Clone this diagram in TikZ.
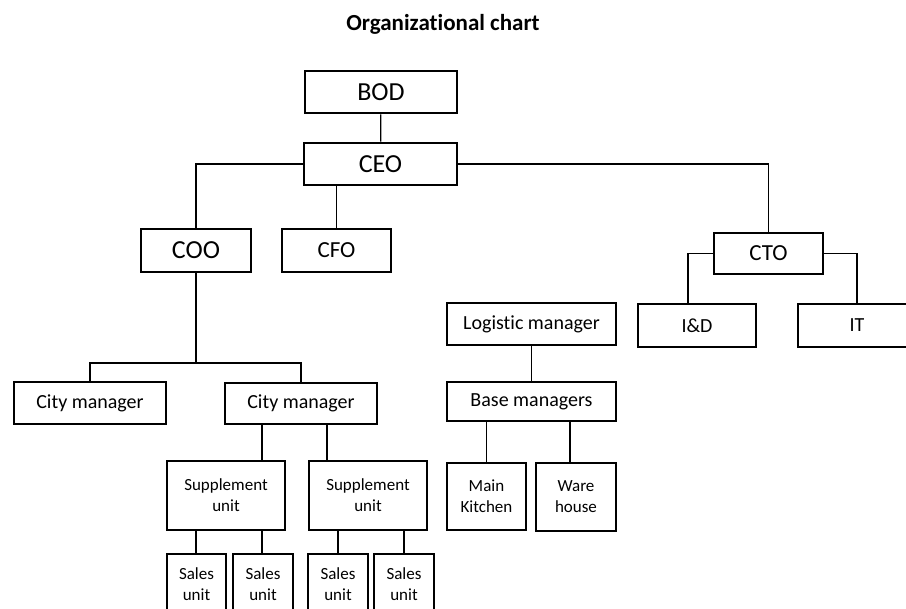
\documentclass[tikz,border=0pt]{standalone}
\usepackage{fontspec}
\setmainfont[Ligatures=NoCommon]{Carlito}

\begin{document}
\begin{tikzpicture}[x=1pt,y=-1pt,
  box/.style={draw,line width=2.9pt,inner sep=0pt,align=center},
  big/.style={font=\fontsize{26}{28}\selectfont},
  mid/.style={font=\fontsize{23}{25}\selectfont},
  norm/.style={font=\fontsize{20}{22}\selectfont},
  small/.style={font=\fontsize{17}{21}\selectfont},
  link/.style={line width=1.2pt}]
\useasboundingbox (0,0) rectangle (906,609);
\node[font=\fontsize{23}{25}\selectfont\bfseries] (title) at (443,24) {Organizational chart};

\node[box,big,minimum width=152,minimum height=42] (bod) at (381,92) {BOD};
\node[box,big,minimum width=153,minimum height=42] (ceo) at (380.5,164) {CEO};
\node[box,big,minimum width=110,minimum height=43] (coo) at (196,250.5) {COO};
\node[box,mid,minimum width=109,minimum height=43] (cfo) at (336.5,250.5) {CFO};
\node[box,mid,minimum width=109,minimum height=41] (cto) at (768.5,253.5) {CTO};
\node[box,norm,minimum width=118,minimum height=43] (rnd) at (697,325.5) {I\&D};
\node[box,norm,minimum width=118,minimum height=43] (it) at (857,325.5) {IT};
\node[box,norm,minimum width=169,minimum height=42] (logm) at (531.5,324) {Logistic manager};
\node[box,norm,minimum width=169,minimum height=39] (basem) at (531.5,401.5) {Base managers};
\node[box,small,minimum width=79,minimum height=67] (kitchen) at (486.5,496.5) {Main\\Kitchen};
\node[box,small,minimum width=80,minimum height=68] (ware) at (576,497) {Ware\\house};
\node[box,norm,minimum width=152,minimum height=42] (city1) at (90,403) {City manager};
\node[box,norm,minimum width=152,minimum height=41] (city2) at (301,403.5) {City manager};
\node[box,small,minimum width=118,minimum height=69] (sup1) at (226,495.5) {Supplement\\unit};
\node[box,small,minimum width=118,minimum height=69] (sup2) at (368,495.5) {Supplement\\unit};
\node[box,small,minimum width=59,minimum height=60] (sales1) at (196.5,584) {Sales\\unit};
\node[box,small,minimum width=60,minimum height=60] (sales2) at (263,584) {Sales\\unit};
\node[box,small,minimum width=60,minimum height=60] (sales3) at (338,584) {Sales\\unit};
\node[box,small,minimum width=60,minimum height=60] (sales4) at (404,584) {Sales\\unit};
\coordinate (split) at (196,363);

\draw[link] (bod) -- (ceo);
\draw[link] (ceo.west) -| (coo.north);
\draw[link] (ceo.south -| cfo.north) -- (cfo.north);
\draw[link] (ceo.east) -| (cto.north);
\draw[link] (cto.west) -| ([xshift=-9]rnd.north);
\draw[link] (cto.east) -| (it.north);
\draw[link] (coo) -- (split);
\draw[link] (city1.north) |- (split) -| (city2.north);
\draw[link] ([xshift=-39]city2.south) -- ([xshift=36]sup1.north);
\draw[link] ([xshift=26]city2.south) -- ([xshift=-41]sup2.north);
\draw[link] ([xshift=-30]sup1.south) -- ([xshift=-30]sup1.south |- sales1.north);
\draw[link] ([xshift=36]sup1.south) -- ([xshift=36]sup1.south |- sales2.north);
\draw[link] ([xshift=-30]sup2.south) -- (sales3.north);
\draw[link] ([xshift=36]sup2.south) -- (sales4.north);
\draw[link] (logm) -- (basem);
\draw[link] (basem.south -| kitchen.north) -- (kitchen.north);
\draw[link] ([xshift=-6]ware.north |- basem.south) -- ([xshift=-6]ware.north);
\end{tikzpicture}
\end{document}
